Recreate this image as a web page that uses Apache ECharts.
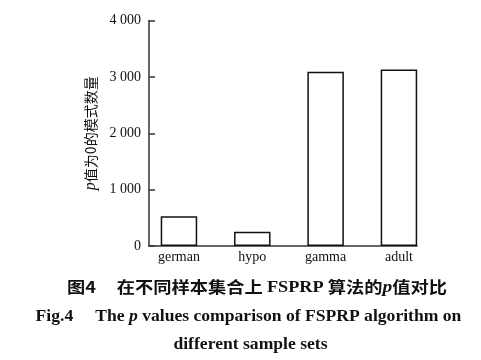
<!DOCTYPE html>
<html><head><meta charset="utf-8">
<script src="https://cdn.jsdelivr.net/npm/echarts@6/dist/echarts.min.js"></script>
<style>html,body{margin:0;padding:0;background:#fff}#c{width:481px;height:360px}</style>
</head><body><div id="c"></div>
<script>
var categories = ['german', 'hypo', 'gamma', 'adult'];
var values = [527, 254, 3090, 3130];
var yTicks = [0, 1000, 2000, 3000, 4000];

var serif = '"Liberation Serif","Times New Roman",serif';
var cjk = '"Noto Sans CJK SC",sans-serif';
function fmt(v){ var s = String(v); return s.length > 3 ? s.slice(0, s.length-3) + ' ' + s.slice(-3) : s; }

var capLine = function(text, x, y, sx, font, rich){
  return {type: 'text', x: x, y: y, scaleX: sx, scaleY: 1,
    style: {text: text, x: 0, y: 0, fill: '#111', font: font, align: 'center', verticalAlign: 'middle',
      textAlign: 'center', textVerticalAlign: 'middle', rich: rich || {}}};
};

var chart = echarts.init(document.getElementById('c'));
chart.setOption({
  animation: false,
  backgroundColor: '#fff',
  grid: [
    {left: 142.3, right: 45.4, top: 20.5, bottom: 114},
    {left: 149, right: 64, top: 20.5, bottom: 114}
  ],
  xAxis: [
    {type: 'category', gridIndex: 0, data: categories, boundaryGap: true,
     axisLine: {show: false}, axisTick: {show: false},
     axisLabel: {fontFamily: serif, fontSize: 14, color: '#111', margin: 4}},
    {type: 'value', gridIndex: 1, min: 0, max: 1,
     axisLine: {show: true, lineStyle: {color: '#333', width: 1.5}},
     axisTick: {show: false}, axisLabel: {show: false}, splitLine: {show: false}}
  ],
  yAxis: [
    {type: 'value', gridIndex: 0, min: yTicks[0], max: yTicks[yTicks.length-1], interval: 1000,
     axisLine: {show: false}, axisTick: {show: false}, axisLabel: {show: false}, splitLine: {show: false}},
    {type: 'value', gridIndex: 1, min: yTicks[0], max: yTicks[yTicks.length-1], interval: 1000,
     axisLine: {show: true, lineStyle: {color: '#333', width: 1.5}},
     axisTick: {show: true, inside: true, length: 6, lineStyle: {color: '#333', width: 1.5}},
     axisLabel: {fontFamily: serif, fontSize: 14, color: '#111', margin: 8, formatter: fmt},
     splitLine: {show: false},
     name: '{i|p}值为0的模式数量', nameLocation: 'middle', nameRotate: 90, nameGap: 45,
     nameTextStyle: {fontFamily: cjk, fontSize: 14, color: '#111',
       rich: {i: {fontFamily: serif, fontStyle: 'italic', fontSize: 16, color: '#111'}}}}
  ],
  series: [{
    type: 'bar', xAxisIndex: 0, yAxisIndex: 0, data: values, barWidth: 36.5,
    itemStyle: {color: '#fff', borderColor: '#111', borderWidth: 1.5}
  }],
  graphic: [
    capLine('图4     在不同样本集合上 {b|FSPRP} 算法的{i|p}值对比', 257, 287, 1.14,
      'bold 16px ' + cjk,
      {b: {fontFamily: serif, fontSize: 16, fontWeight: 'bold', fill: '#111', color: '#111', padding: [2, 0, 0, 0]},
       i: {fontFamily: serif, fontSize: 17, fontStyle: 'italic', fontWeight: 'bold', fill: '#111', color: '#111', padding: [2, 0, 0, 0]}}),
    capLine('Fig.4     The {i|p} values comparison of FSPRP algorithm on', 248.5, 317, 1.1,
      'bold 16px ' + serif,
      {i: {fontFamily: serif, fontSize: 16, fontStyle: 'italic', fontWeight: 'bold', fill: '#111', color: '#111'}}),
    capLine('different sample sets', 250.5, 345, 1.1, 'bold 16px ' + serif)
  ]
});
</script></body></html>
